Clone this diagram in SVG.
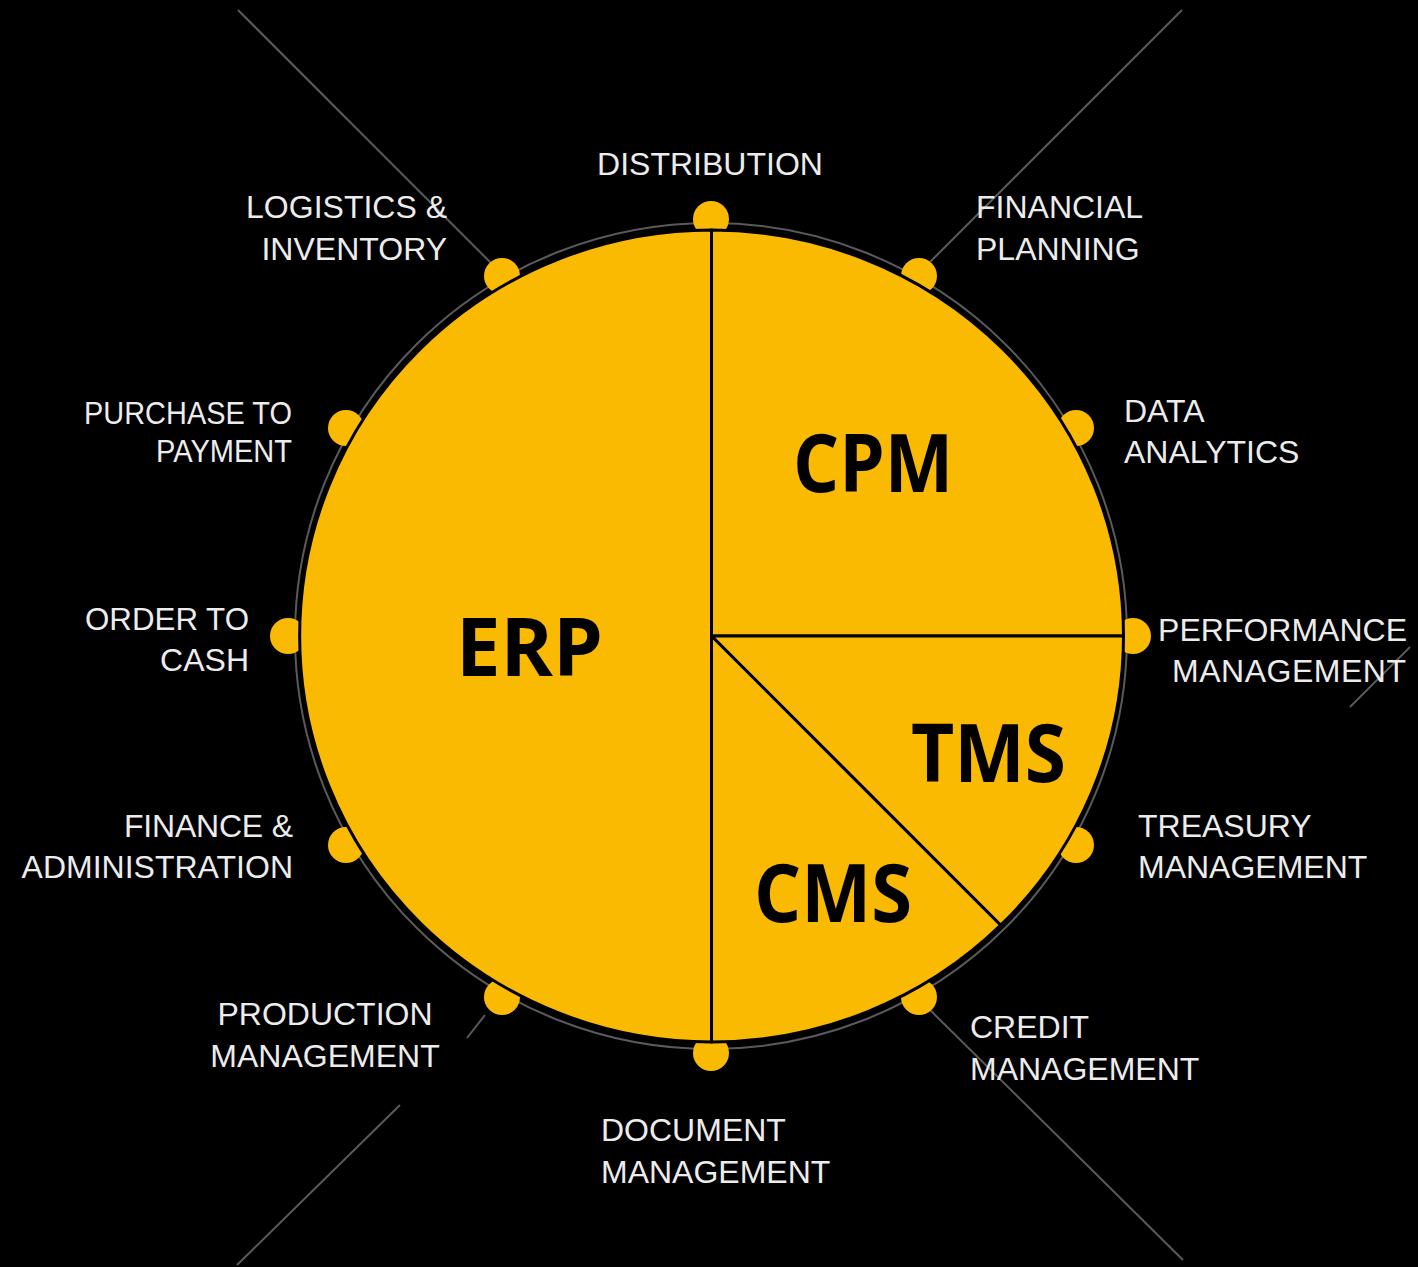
<svg xmlns="http://www.w3.org/2000/svg" width="1418" height="1267" viewBox="0 0 1418 1267">
  <style>
    .lbl { font-family: "Liberation Sans", Arial, sans-serif; font-size: 32px; fill: #ececec; }
    .end { text-anchor: end; }
    .mid { text-anchor: middle; }
    .big { font-family: "Open Sans", "Liberation Sans", Arial, sans-serif; font-weight: 700; font-size: 80px; fill: #000; }
    .seg { fill: #FBBA02; stroke: #000; stroke-width: 3; stroke-linejoin: round; }
    .dot { fill: #FBBA02; }
    .ln { stroke: #5a5a5a; stroke-width: 2; fill: none; }
  </style>
  <rect width="1418" height="1267" fill="#000"/>

  <g id="connectors">
    <line class="ln" x1="238" y1="10" x2="494" y2="266"/>
    <line class="ln" x1="1182" y1="10" x2="930" y2="262"/>
    <line class="ln" x1="485" y1="1015" x2="467" y2="1038"/>
    <line class="ln" x1="400" y1="1105" x2="237" y2="1265"/>
    <line class="ln" x1="928" y1="1008" x2="1183" y2="1260"/>
    <line class="ln" x1="1410" y1="647" x2="1350" y2="707"/>
    <ellipse class="ln" cx="711" cy="636" rx="416" ry="413"/>
  </g>

  <g id="dots">
    <circle class="dot" cx="711" cy="219" r="18"/>
    <circle class="dot" cx="919" cy="276" r="18"/>
    <circle class="dot" cx="1076" cy="428" r="18"/>
    <circle class="dot" cx="1133" cy="636" r="18"/>
    <circle class="dot" cx="1076" cy="845" r="18"/>
    <circle class="dot" cx="919" cy="997" r="18"/>
    <circle class="dot" cx="711" cy="1053" r="18"/>
    <circle class="dot" cx="502" cy="997" r="18"/>
    <circle class="dot" cx="346" cy="845" r="18"/>
    <circle class="dot" cx="288" cy="636" r="18"/>
    <circle class="dot" cx="346" cy="428" r="18"/>
    <circle class="dot" cx="502" cy="276" r="18"/>
  </g>

  <g id="erp">
    <path class="seg" d="M711.5,636 L711.5,1042 A412,406 0 0 1 711.5,230 Z"/>
    <text class="big" x="456" y="676" textLength="147" lengthAdjust="spacingAndGlyphs">ERP</text>
  </g>
  <g id="cpm">
    <path class="seg" d="M711.5,636 L711.5,230 A412,406 0 0 1 1123.5,636 Z"/>
    <text class="big" x="793" y="492" textLength="160" lengthAdjust="spacingAndGlyphs">CPM</text>
  </g>
  <g id="tms">
    <path class="seg" d="M711.5,636 L1123.5,636 A412,406 0 0 1 1000.7,925.2 Z"/>
    <text class="big" x="911" y="782" textLength="155" lengthAdjust="spacingAndGlyphs">TMS</text>
  </g>
  <g id="cms">
    <path class="seg" d="M711.5,636 L1000.7,925.2 A412,406 0 0 1 711.5,1042 Z"/>
    <text class="big" x="754" y="922" textLength="158" lengthAdjust="spacingAndGlyphs">CMS</text>
  </g>

  <g id="distribution"><text class="lbl mid" x="710" y="175">DISTRIBUTION</text></g>
  <g id="financial-planning">
    <text class="lbl" x="976" y="218">FINANCIAL</text>
    <text class="lbl" x="976" y="260">PLANNING</text>
  </g>
  <g id="data-analytics">
    <text class="lbl" x="1124" y="422">DATA</text>
    <text class="lbl" x="1124" y="463">ANALYTICS</text>
  </g>
  <g id="performance-management">
    <text class="lbl end" x="1407" y="641">PERFORMANCE</text>
    <text class="lbl end" x="1406" y="682" textLength="234">MANAGEMENT</text>
  </g>
  <g id="treasury-management">
    <text class="lbl" x="1138" y="837">TREASURY</text>
    <text class="lbl" x="1138" y="878">MANAGEMENT</text>
  </g>
  <g id="credit-management">
    <text class="lbl" x="970" y="1038">CREDIT</text>
    <text class="lbl" x="970" y="1080">MANAGEMENT</text>
  </g>
  <g id="document-management">
    <text class="lbl" x="601" y="1141">DOCUMENT</text>
    <text class="lbl" x="601" y="1183">MANAGEMENT</text>
  </g>
  <g id="production-management">
    <text class="lbl mid" x="325" y="1025">PRODUCTION</text>
    <text class="lbl mid" x="325" y="1067">MANAGEMENT</text>
  </g>
  <g id="finance-administration">
    <text class="lbl end" x="293" y="837" textLength="169">FINANCE &amp;</text>
    <text class="lbl end" x="293" y="878">ADMINISTRATION</text>
  </g>
  <g id="order-to-cash">
    <text class="lbl end" x="249" y="630" textLength="164" lengthAdjust="spacingAndGlyphs">ORDER TO</text>
    <text class="lbl end" x="249" y="671">CASH</text>
  </g>
  <g id="purchase-to-payment">
    <text class="lbl end" x="292" y="424" textLength="208" lengthAdjust="spacingAndGlyphs">PURCHASE TO</text>
    <text class="lbl end" x="292" y="462" textLength="136" lengthAdjust="spacingAndGlyphs">PAYMENT</text>
  </g>
  <g id="logistics-inventory">
    <text class="lbl end" x="447" y="218">LOGISTICS &amp;</text>
    <text class="lbl end" x="447" y="260">INVENTORY</text>
  </g>
</svg>
